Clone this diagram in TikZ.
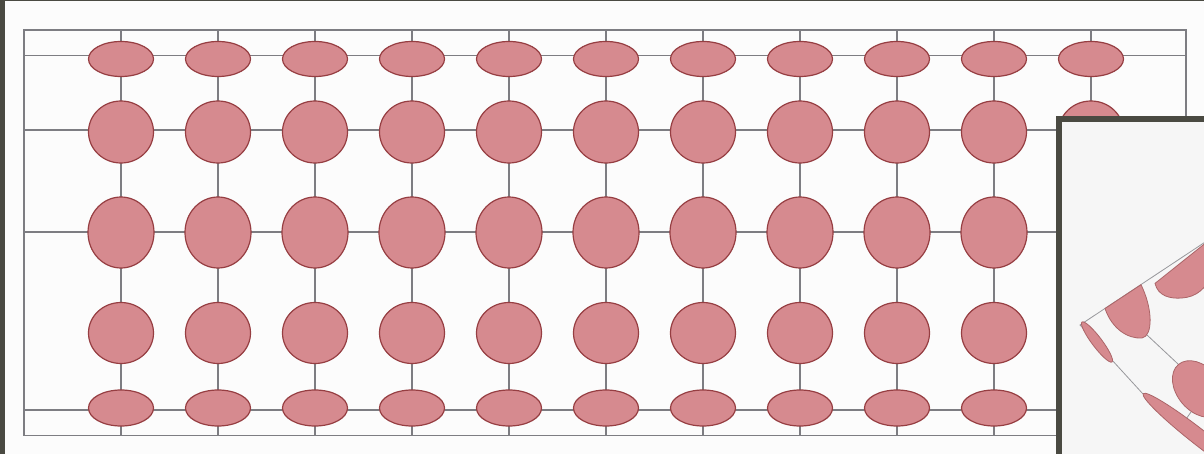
\documentclass[tikz,border=0pt]{standalone}
\usepackage{tikz}
\usetikzlibrary{shapes.geometric}
\definecolor{framec}{RGB}{74,74,66}
\definecolor{gridc}{RGB}{125,125,130}
\definecolor{pinkf}{RGB}{214,138,143}
\definecolor{pinkd}{RGB}{150,62,66}
\definecolor{paper}{RGB}{252,252,252}
\definecolor{paperb}{RGB}{246,246,246}
\begin{document}
\begin{tikzpicture}[x=0.75pt,y=0.75pt,
  gridline/.style={draw=gridc,line width=0.9pt},
  thinline/.style={draw=gridc!80,line width=0.6pt},
  blob/.style={ellipse,draw=pinkd,fill=pinkf,line width=0.9pt,inner sep=0pt,minimum width=48.75pt},
  inblob/.style={draw=pinkd!80,fill=pinkf,line width=0.6pt}]
\useasboundingbox (0,0) rectangle (1204,454);
\fill[paper] (0,0) rectangle (1204,454);
% main grid
\coordinate (TL) at (24,424);
\coordinate (BR) at (1186,18.5);
\draw[gridline] (TL) rectangle (BR);
\foreach \y in {398.5,324,222,44} \draw[gridline] (24,\y) -- (1186,\y);
\foreach \i in {0,...,10} {
  \pgfmathsetmacro\cx{121+97*\i}
  \draw[gridline] (\cx,424) -- (\cx,18.5);
}
\foreach \i in {0,...,10} {
  \pgfmathsetmacro\cx{121+97*\i}
  \node[blob,minimum height=26.25pt] (ra\i) at (\cx,395) {};
  \node[blob,minimum height=46.5pt] (rb\i) at (\cx,322) {};
  \node[blob,minimum width=49.5pt,minimum height=53.25pt] (rc\i) at (\cx,221.5) {};
  \node[blob,minimum height=45.75pt] (rd\i) at (\cx,121) {};
  \node[blob,minimum height=27pt] (re\i) at (\cx,46) {};
}
% frame of the scan
\fill[framec] (0,0) rectangle (4.5,454);
\fill[framec] (0,453) rectangle (1204,454);
% inset
\fill[framec] (1056,0) rectangle (1204,338);
\fill[paperb] (1062,0) rectangle (1204,332);
\begin{scope}
  \clip (1062,0) rectangle (1204,332);
  \coordinate (C) at (1080,129);
  \coordinate (U) at (1215,218.5);
  \coordinate (L) at (1143,60);
  \draw[thinline] (U) -- (C) -- (L);
  \coordinate (d1b) at (1147,119);
  \coordinate (etop) at (1178,90);
  \draw[thinline] (d1b) -- (etop);
  \coordinate (ebot) at (1184,32);
  \coordinate (stop) at (1198,52);
  \draw[thinline] (ebot) -- (stop);
  % sliver at the corner
  \draw[inblob, rotate around={-53:(1097,112)}] (1097,112) ellipse [x radius=25, y radius=5];
  % half ellipses hanging from the upper line
  \draw[inblob] (1105,145.5) .. controls (1112,125) and (1128,115) .. (1142,116)
     .. controls (1153,118) and (1153,145) .. (1141,169.3) -- cycle;
  \draw[inblob] (1155,170.6) .. controls (1158,158) and (1170,155) .. (1182,156)
     .. controls (1196,157) and (1206,165) .. (1212,180) -- (1215,218.5) -- cycle;
  % big ellipse
  \draw[inblob, rotate around={-50:(1199,65)}] (1199,65) ellipse [x radius=32, y radius=22];
  % long sliver
  \draw[inblob, rotate around={-38:(1200,16)}] (1200,16) ellipse [x radius=72, y radius=8];
\end{scope}
\end{tikzpicture}
\end{document}
